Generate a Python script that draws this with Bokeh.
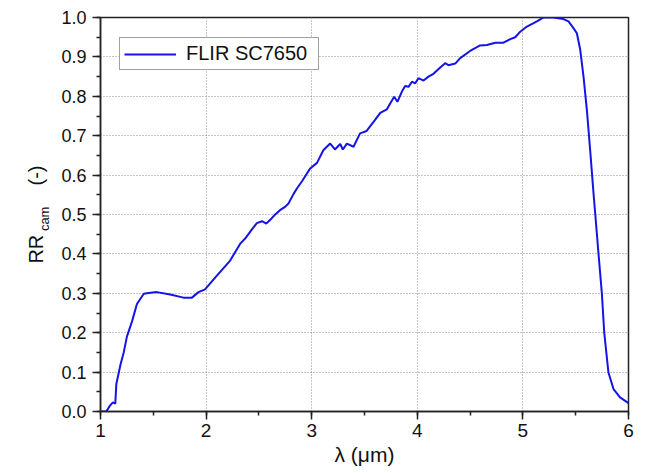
from math import pi
from bokeh.plotting import figure
from bokeh.layouts import row
from bokeh.models import (Legend, LegendItem, SingleIntervalTicker,
                          NumeralTickFormatter, Range1d, ColumnDataSource)
from bokeh.core.properties import value
from bokeh.embed import file_html
from bokeh.resources import INLINE

# ---- data ----
series_name = "FLIR SC7650"
wavelength_um = [
    1.00, 1.054, 1.09, 1.117, 1.14, 1.15, 1.19, 1.22, 1.25, 1.30, 1.345, 1.41,
    1.455, 1.534, 1.66, 1.786, 1.866, 1.928, 1.99, 2.10, 2.228, 2.276, 2.323,
    2.37, 2.434, 2.48, 2.53, 2.57, 2.62, 2.654, 2.70, 2.75, 2.78, 2.83, 2.86,
    2.91, 2.95, 2.986, 3.05, 3.11, 3.175, 3.22, 3.27, 3.295, 3.333, 3.396,
    3.458, 3.52, 3.60, 3.649, 3.712, 3.743, 3.781, 3.812, 3.854, 3.885, 3.917,
    3.949, 3.980, 4.011, 4.059, 4.106, 4.153, 4.217, 4.264, 4.295, 4.359,
    4.406, 4.50, 4.595, 4.659, 4.738, 4.816, 4.880, 4.927, 4.975, 5.038,
    5.133, 5.195, 5.29, 5.384, 5.432, 5.479, 5.511, 5.543, 5.574, 5.606,
    5.637, 5.669, 5.685, 5.716, 5.748, 5.77, 5.81, 5.858, 5.92, 6.00,
]
rr_cam = [
    0.000, 0.000, 0.015, 0.023, 0.020, 0.070, 0.120, 0.150, 0.190, 0.230, 0.273, 0.299,
    0.301, 0.303, 0.297, 0.289, 0.289, 0.303, 0.310, 0.344, 0.383, 0.405, 0.426,
    0.439, 0.462, 0.478, 0.483, 0.477, 0.490, 0.500, 0.511, 0.520, 0.528, 0.553, 0.566,
    0.585, 0.602, 0.617, 0.631, 0.663, 0.680, 0.665, 0.679, 0.665, 0.680, 0.672,
    0.706, 0.712, 0.740, 0.758, 0.767, 0.782, 0.799, 0.786, 0.812, 0.826, 0.824,
    0.837, 0.833, 0.846, 0.840, 0.850, 0.857, 0.873, 0.884, 0.879, 0.883,
    0.897, 0.915, 0.929, 0.930, 0.936, 0.936, 0.945, 0.950, 0.964, 0.977,
    0.990, 1.000, 1.000, 0.996, 0.990, 0.973, 0.960, 0.918, 0.850, 0.765,
    0.663, 0.553, 0.502, 0.400, 0.299, 0.201, 0.099, 0.057, 0.036, 0.021,
]
x_label = "λ (μm)"
y_label_parts = ["RR", "cam", "(-)"]

X0, X1 = 1, 6
Y0, Y1 = 0, 1.0

FONT = "Liberation Sans"
AX = "#222222"
TXT = "#111111"
W, H = 647, 473
WL = 50          # width of the strip holding the y-axis title
TOP, BOTTOM = 17, 62

yr = Range1d(Y0, Y1)

# ---- strip with the rotated y-axis title (shares the chart's y range) ----
t = figure(width=WL, height=H, output_backend="svg", toolbar_location=None,
           x_range=Range1d(0, WL), y_range=yr,
           x_axis_type=None, y_axis_type=None,
           min_border_left=0, min_border_right=0,
           min_border_top=TOP, min_border_bottom=BOTTOM)
t.outline_line_color = None
t.xgrid.visible = False
t.ygrid.visible = False
for xc, yc, txt, size in [(35, 0.412, y_label_parts[0], "20px"),
                          (43.5, 0.489, y_label_parts[1], "13px"),
                          (35, 0.599, y_label_parts[2], "20px")]:
    t.text(x=[xc], y=[yc], text=[txt], angle=pi / 2,
           text_align="center", text_baseline="middle",
           text_font=value(FONT), text_font_size=size, text_color=TXT)

# ---- main chart ----
p = figure(width=W - WL, height=H, output_backend="svg", toolbar_location=None,
           x_range=Range1d(X0, X1), y_range=yr,
           min_border_left=100 - WL, min_border_right=19,
           min_border_top=TOP, min_border_bottom=BOTTOM)
p.background_fill_color = "white"
p.border_fill_color = "white"
p.outline_line_color = AX
p.outline_line_width = 1.5

src = ColumnDataSource(dict(x=wavelength_um, y=rr_cam))
r = p.line("x", "y", source=src, line_color="#1414E6", line_width=2)

p.xaxis.ticker = SingleIntervalTicker(interval=1, num_minor_ticks=2)
p.yaxis.ticker = SingleIntervalTicker(interval=0.1, num_minor_ticks=2)
p.yaxis.formatter = NumeralTickFormatter(format="0.0")
for ax in (p.xaxis, p.yaxis):
    ax.axis_line_color = AX
    ax.axis_line_width = 1.5
    ax.major_tick_line_color = AX
    ax.major_tick_line_width = 1.5
    ax.minor_tick_line_color = AX
    ax.minor_tick_line_width = 1.5
    ax.major_tick_in = 0
    ax.major_tick_out = 8
    ax.minor_tick_in = 0
    ax.minor_tick_out = 4
    ax.major_label_text_font = FONT
    ax.major_label_text_color = TXT
p.xaxis.major_label_text_font_size = "19px"
p.yaxis.major_label_text_font_size = "18px"
p.xaxis.major_label_standoff = 4
p.yaxis.major_label_standoff = 6

p.xaxis.axis_label = x_label
p.xaxis.axis_label_text_font = FONT
p.xaxis.axis_label_text_font_size = "21px"
p.xaxis.axis_label_text_font_style = "normal"
p.xaxis.axis_label_text_color = TXT
p.xaxis.axis_label_standoff = 3

for g in (p.xgrid, p.ygrid):
    g.grid_line_color = "#888888"
    g.grid_line_dash = "1 2"
    g.grid_line_width = 1

legend = Legend(items=[LegendItem(label=series_name, renderers=[r])],
                location=(19, 341), margin=0, padding=4, spacing=0,
                glyph_width=52, glyph_height=18, label_height=18, label_standoff=10,
                label_width=128,
                label_text_font=FONT, label_text_font_size="20px",
                label_text_color=TXT,
                border_line_color="#444444", border_line_width=1,
                background_fill_color="white", background_fill_alpha=1)
p.add_layout(legend)

layout = row(t, p, spacing=0)
open("out.html", "w").write(file_html(layout, INLINE))
